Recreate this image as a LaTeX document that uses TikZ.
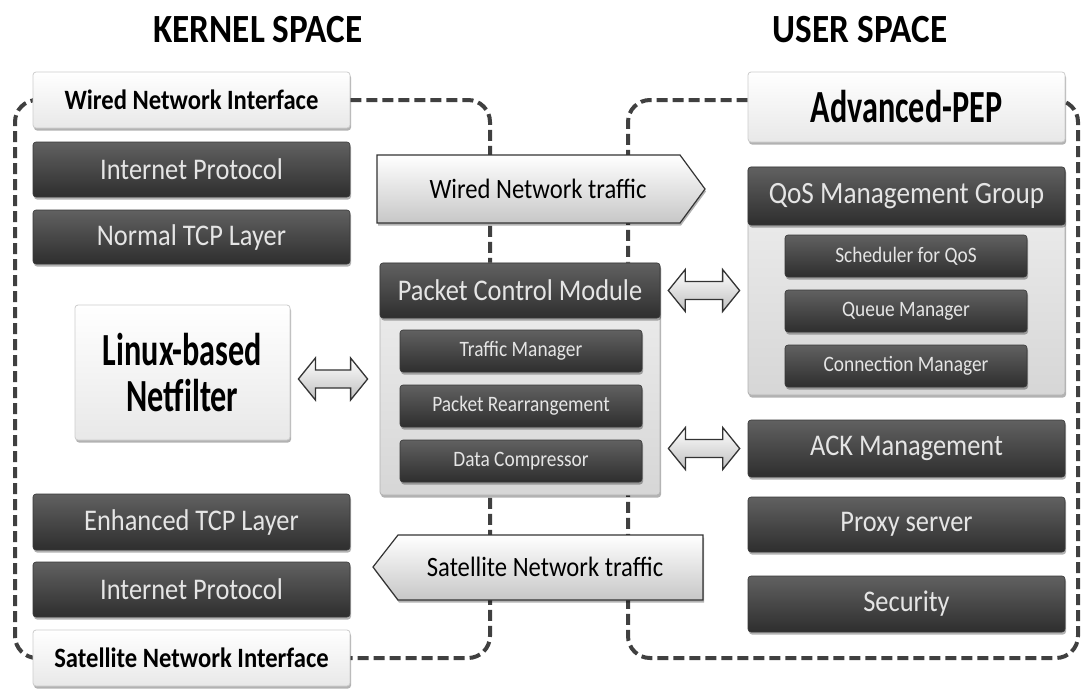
\documentclass[tikz,border=0pt]{standalone}
\usepackage{fontspec}
\setmainfont{Carlito}[FakeStretch=0.88]
\newfontfamily\condfont{Carlito}[FakeStretch=0.70]
\usetikzlibrary{calc,shadows,backgrounds}

\begin{document}
\begin{tikzpicture}[x=1pt,y=-1pt,
  % a box given by its left, top, right and bottom edges
  span/.style n args={4}{minimum width={#3-#1}, minimum height={#4-#2},
    at={({(#1+#3)/2},{(#2+#4)/2})}},
  shade/.style={drop shadow={shadow xshift=1pt,shadow yshift=-2.5pt,opacity=0.3,fill=black}},
  dark/.style={rectangle, rounded corners=3pt, top color=black!62, bottom color=black!82,
    draw=black!78, line width=0.6pt, text=white!90!black, inner sep=0pt, shade},
  light/.style={rectangle, rounded corners=3pt, top color=white, bottom color=black!9,
    draw=black!20, line width=0.8pt, inner sep=0pt, shade},
  panel/.style={rectangle, rounded corners=3pt, top color=black!6, bottom color=black!16,
    draw=black!30, line width=0.8pt, inner sep=0pt, shade},
  flow/.style={top color=white, bottom color=black!22, draw=black!80, line width=1.2pt, shade},
  fat/.style={top color=white, bottom color=black!25, draw=black!80, line width=1.3pt},
  dashline/.style={draw=black!75, line width=4pt, dash pattern=on 11pt off 5pt, rounded corners=22pt},
  big/.style={font=\fontsize{30}{32}\selectfont},
  mid/.style={font=\fontsize{28}{30}\selectfont},
  small/.style={font=\fontsize{22}{24}\selectfont},
  iface/.style={font=\bfseries\fontsize{28}{30}\selectfont},
  head/.style={font=\bfseries\fontsize{40}{44}\selectfont},
]
\useasboundingbox (0,0) rectangle (1083,689);

% section headings
\node[head] (kh) at (258,30) {KERNEL SPACE};
\node[head] (uh) at (860,30) {USER SPACE};

% kernel-space stack
\node[light, span={33}{72}{350}{128}, iface] (wni) {Wired Network Interface};
\node[dark, span={33}{142}{350}{197}, big] (ip1) {Internet Protocol};
\node[dark, span={33}{210}{350}{264}, big] (ntcp) {Normal TCP Layer};
\node[light, span={75}{305}{290}{440}, align=center,
  font=\condfont\bfseries\fontsize{46}{46}\selectfont] (nf) {Linux-based\\Netfilter};
\node[dark, span={33}{494}{350}{550}, big] (etcp) {Enhanced TCP Layer};
\node[dark, span={33}{562}{350}{617}, big] (ip2) {Internet Protocol};
\node[light, span={33}{630}{350}{686}, iface] (sni) {Satellite Network Interface};

% packet control module
\node[panel, span={380}{263}{660}{495}] (pcm) {};
\node[dark, span={380}{263}{660}{318}, big] (pcmh) {Packet Control Module};
\node[dark, span={400}{330}{642}{372}, small] (tm) {Traffic Manager};
\node[dark, span={400}{385}{642}{427}, small] (pr) {Packet Rearrangement};
\node[dark, span={400}{440}{642}{482}, small] (dc) {Data Compressor};

% user space
\node[light, span={748}{72}{1065}{142}, font=\condfont\bfseries\fontsize{46}{48}\selectfont] (adv) {Advanced-PEP};
\node[panel, span={748}{167}{1065}{395}] (qos) {};
\node[dark, span={748}{167}{1065}{225}, font=\fontsize{31}{33}\selectfont] (qosh) {QoS Management Group};
\node[dark, span={785}{235}{1027}{277}, small] (sch) {Scheduler for QoS};
\node[dark, span={785}{290}{1027}{332}, small] (qm) {Queue Manager};
\node[dark, span={785}{345}{1027}{387}, small] (cm) {Connection Manager};
\node[dark, span={748}{420}{1065}{477}, big] (ack) {ACK Management};
\node[dark, span={748}{497}{1065}{552}, big] (px) {Proxy server};
\node[dark, span={748}{576}{1065}{632}, big] (sec) {Security};

% traffic direction arrows
\draw[flow] (377,155) -- (680,155) -- (705,189) -- (680,223) -- (377,223) -- cycle;
\node[mid] (wt) at (538,189) {Wired Network traffic};
\draw[flow] (703,535) -- (398,535) -- (373,567) -- (398,600) -- (703,600) -- cycle;
\node[mid] (st) at (545,567) {Satellite Network traffic};

% two-way exchange arrows
\newcommand\twoway[2]{%
  \draw[fat] (#1) -- ++(17,-21) -- ++(0,12) -- ($(#2)+(-17,-9)$) -- ++(0,-12) -- (#2)
    -- ++(-17,21) -- ++(0,-12) -- ($(#1)+(17,9)$) -- ++(0,12) -- cycle;}
\coordinate (a1) at ($(nf.east |- pcm.west)+(8,0)$);
\coordinate (b1) at ($(pcm.west)+(-12,0)$);
\twoway{a1}{b1}
\coordinate (a2) at ($(pcmh.east)+(8,0)$);
\coordinate (b2) at ($(qos.west |- pcmh.east)+(-8,0)$);
\twoway{a2}{b2}
\coordinate (a3) at ($(pcm.east |- ack.west)+(8,0)$);
\coordinate (b3) at ($(ack.west)+(-8,0)$);
\twoway{a3}{b3}

% page ground and space boundaries
\begin{scope}[on background layer]
\fill[white] (0,0) rectangle (1083,689);
\draw[dashline] (wni.east) -- (490,100) -- (490,658) -- (sni.east);
\draw[dashline] (wni.west) -- (15,100) -- (15,658) -- (sni.west);
\draw[dashline] (adv.west |- wni.east) -- (628,100) -- (628,658) -- (1078,658) -- (1078,100) -- (adv.east |- wni.east);
\end{scope}
\end{tikzpicture}
\end{document}
